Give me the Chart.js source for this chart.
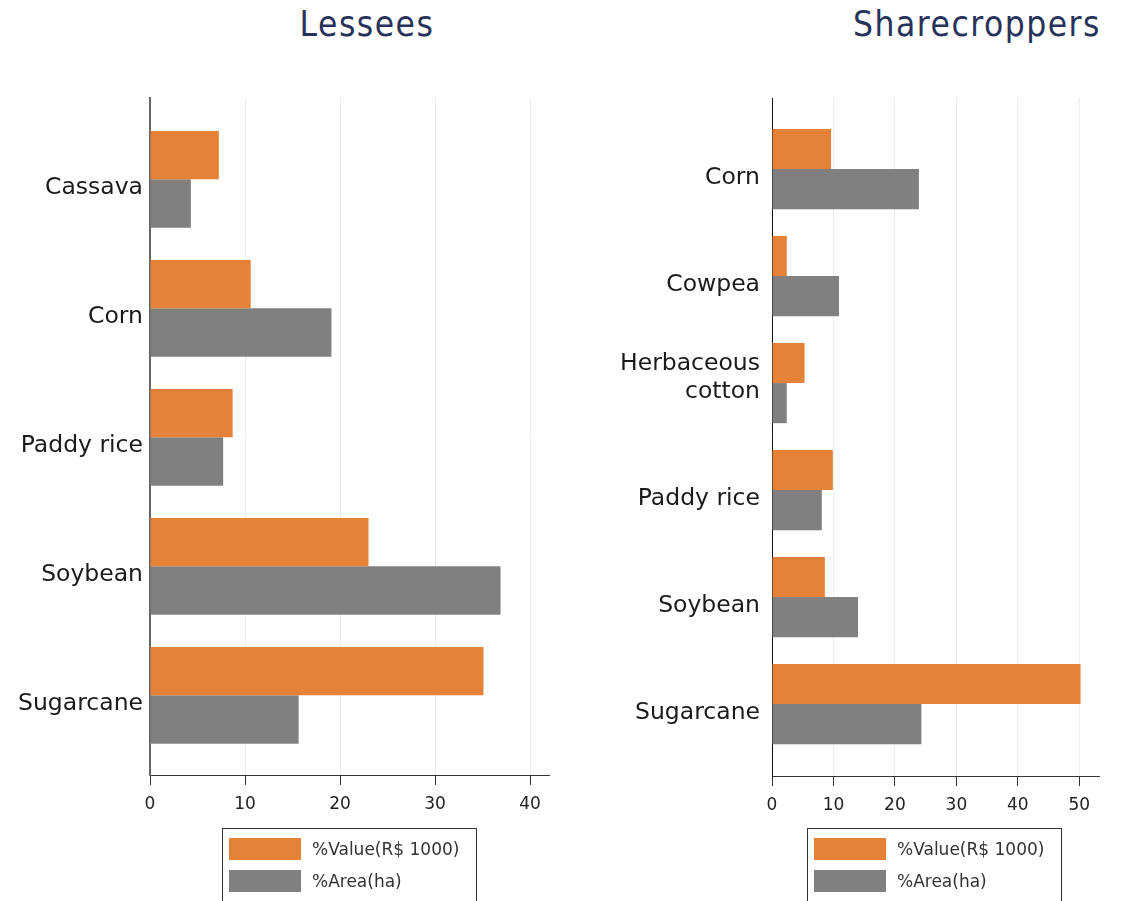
<!DOCTYPE html>
<html>
<head>
<meta charset="utf-8">
<script src="https://cdn.jsdelivr.net/npm/chart.js@4/dist/chart.umd.min.js"></script>
<style>
  html, body { margin: 0; padding: 0; background: #fff; }
  body { width: 1126px; height: 901px; position: relative; overflow: hidden; font-family: "DejaVu Sans", sans-serif; }
  .title { position: absolute; top: 0; width: 400px; text-align: center; font-family: "DejaVu Sans Condensed", "DejaVu Sans", sans-serif; font-weight: 300; font-size: 35px; letter-spacing: 1.5px; line-height: 48px; color: #27325a; }
  canvas { position: absolute; top: 0; }
  .legend { position: absolute; top: 828px; width: 253px; height: 100px; border: 1px solid #333; }
  .legend .item { position: absolute; left: 6px; height: 22px; }
  .legend .swatch { position: absolute; left: 0; top: 0; width: 72px; height: 22px; }
  .legend .label { position: absolute; left: 83px; top: 0; line-height: 22px; font-size: 17px; color: #333; white-space: nowrap; }
</style>
</head>
<body>
<div class="title" style="left:167px">Lessees</div>
<div class="title" style="left:777px">Sharecroppers</div>
<canvas id="lessees" width="560" height="901" style="left:0"></canvas>
<canvas id="share" width="563" height="901" style="left:563px"></canvas>
<div class="legend" id="legendLessees" style="left:222px"></div>
<div class="legend" id="legendShare" style="left:807px"></div>
<script>
// data
const seriesNames = ["%Value(R$ 1000)", "%Area(ha)"];
const seriesColors = ["#e68237", "#808081"];

const lesseeCrops = ["Cassava", "Corn", "Paddy rice", "Soybean", "Sugarcane"];
const lesseeValue = [7.25, 10.6, 8.7, 23.0, 35.1];
const lesseeArea = [4.3, 19.1, 7.7, 36.9, 15.65];
const lesseeTicks = [0, 10, 20, 30, 40];

// the two-line label sits a bit high in the original, hence the empty third line
const shareCrops = ["Corn", "Cowpea", ["Herbaceous", "cotton", ""], "Paddy rice", "Soybean", "Sugarcane"];
const shareValue = [9.6, 2.4, 5.3, 9.9, 8.6, 50.2];
const shareArea = [23.9, 10.9, 2.4, 8.1, 14.0, 24.3];
const shareTicks = [0, 10, 20, 30, 40, 50];

function makeChart(id, crops, valueData, areaData, xTicks, cfg) {
  const toPoints = (arr) => arr.map((v, i) => ({ x: v, y: i }));
  return new Chart(document.getElementById(id), {
    type: "bar",
    data: {
      datasets: [
        { label: seriesNames[0], data: toPoints(valueData), backgroundColor: seriesColors[0] },
        { label: seriesNames[1], data: toPoints(areaData), backgroundColor: seriesColors[1] },
      ],
    },
    options: {
      responsive: false,
      animation: false,
      indexAxis: "y",
      categoryPercentage: 0.75,
      barPercentage: 1,
      layout: { padding: { top: cfg.top, right: cfg.right, left: 0, bottom: 0 } },
      plugins: { legend: { display: false }, tooltip: { enabled: false } },
      scales: {
        x: {
          type: "linear",
          min: 0,
          max: cfg.xMax,
          afterBuildTicks: (s) => { s.ticks = xTicks.map((v) => ({ value: v })); },
          afterFit: (s) => { s.height = cfg.xHeight; },
          grid: { color: "#e8eff0", tickColor: "#333", tickLength: 10 },
          border: { color: "#333", width: 1 },
          ticks: { font: { family: "DejaVu Sans", size: 17 }, color: "#222", padding: 9 },
        },
        y: {
          type: "linear",
          reverse: true,
          offset: false,
          min: cfg.yMin,
          max: cfg.yMax,
          afterBuildTicks: (s) => { s.ticks = crops.map((c, i) => ({ value: i })); },
          afterFit: (s) => { s.width = cfg.yWidth; },
          grid: { display: false, drawTicks: false, offset: false },
          border: { display: true, color: cfg.yBorder, width: cfg.yBorderWidth },
          ticks: {
            callback: (v) => crops[v],
            font: { family: "DejaVu Sans", size: 23.5 },
            color: "#1a1a1a",
            padding: cfg.labelPad,
            labelOffset: 9,
          },
        },
      },
    },
  });
}

function makeLegend(boxId, chart) {
  const box = document.getElementById(boxId);
  chart.data.datasets.forEach((ds, i) => {
    const item = document.createElement("div");
    item.className = "item";
    item.style.top = (9 + i * 32) + "px";
    item.innerHTML = `<div class="swatch" style="background:${ds.backgroundColor}"></div><div class="label">${ds.label}</div>`;
    box.appendChild(item);
  });
}

const lesseesChart = makeChart("lessees", lesseeCrops, lesseeValue, lesseeArea, lesseeTicks, {
  top: 97.5, right: 11, xMax: 42, xHeight: 126, yMin: -0.634, yMax: 4.618,
  yWidth: 150, yBorder: "#666", yBorderWidth: 2, labelPad: 7,
});
const shareChart = makeChart("share", shareCrops, shareValue, shareArea, shareTicks, {
  top: 98, right: 27, xMax: 53.2, xHeight: 125, yMin: -0.664, yMax: 5.672,
  yWidth: 209, yBorder: "#111", yBorderWidth: 1, labelPad: 12,
});
makeLegend("legendLessees", lesseesChart);
makeLegend("legendShare", shareChart);
</script>
</body>
</html>
